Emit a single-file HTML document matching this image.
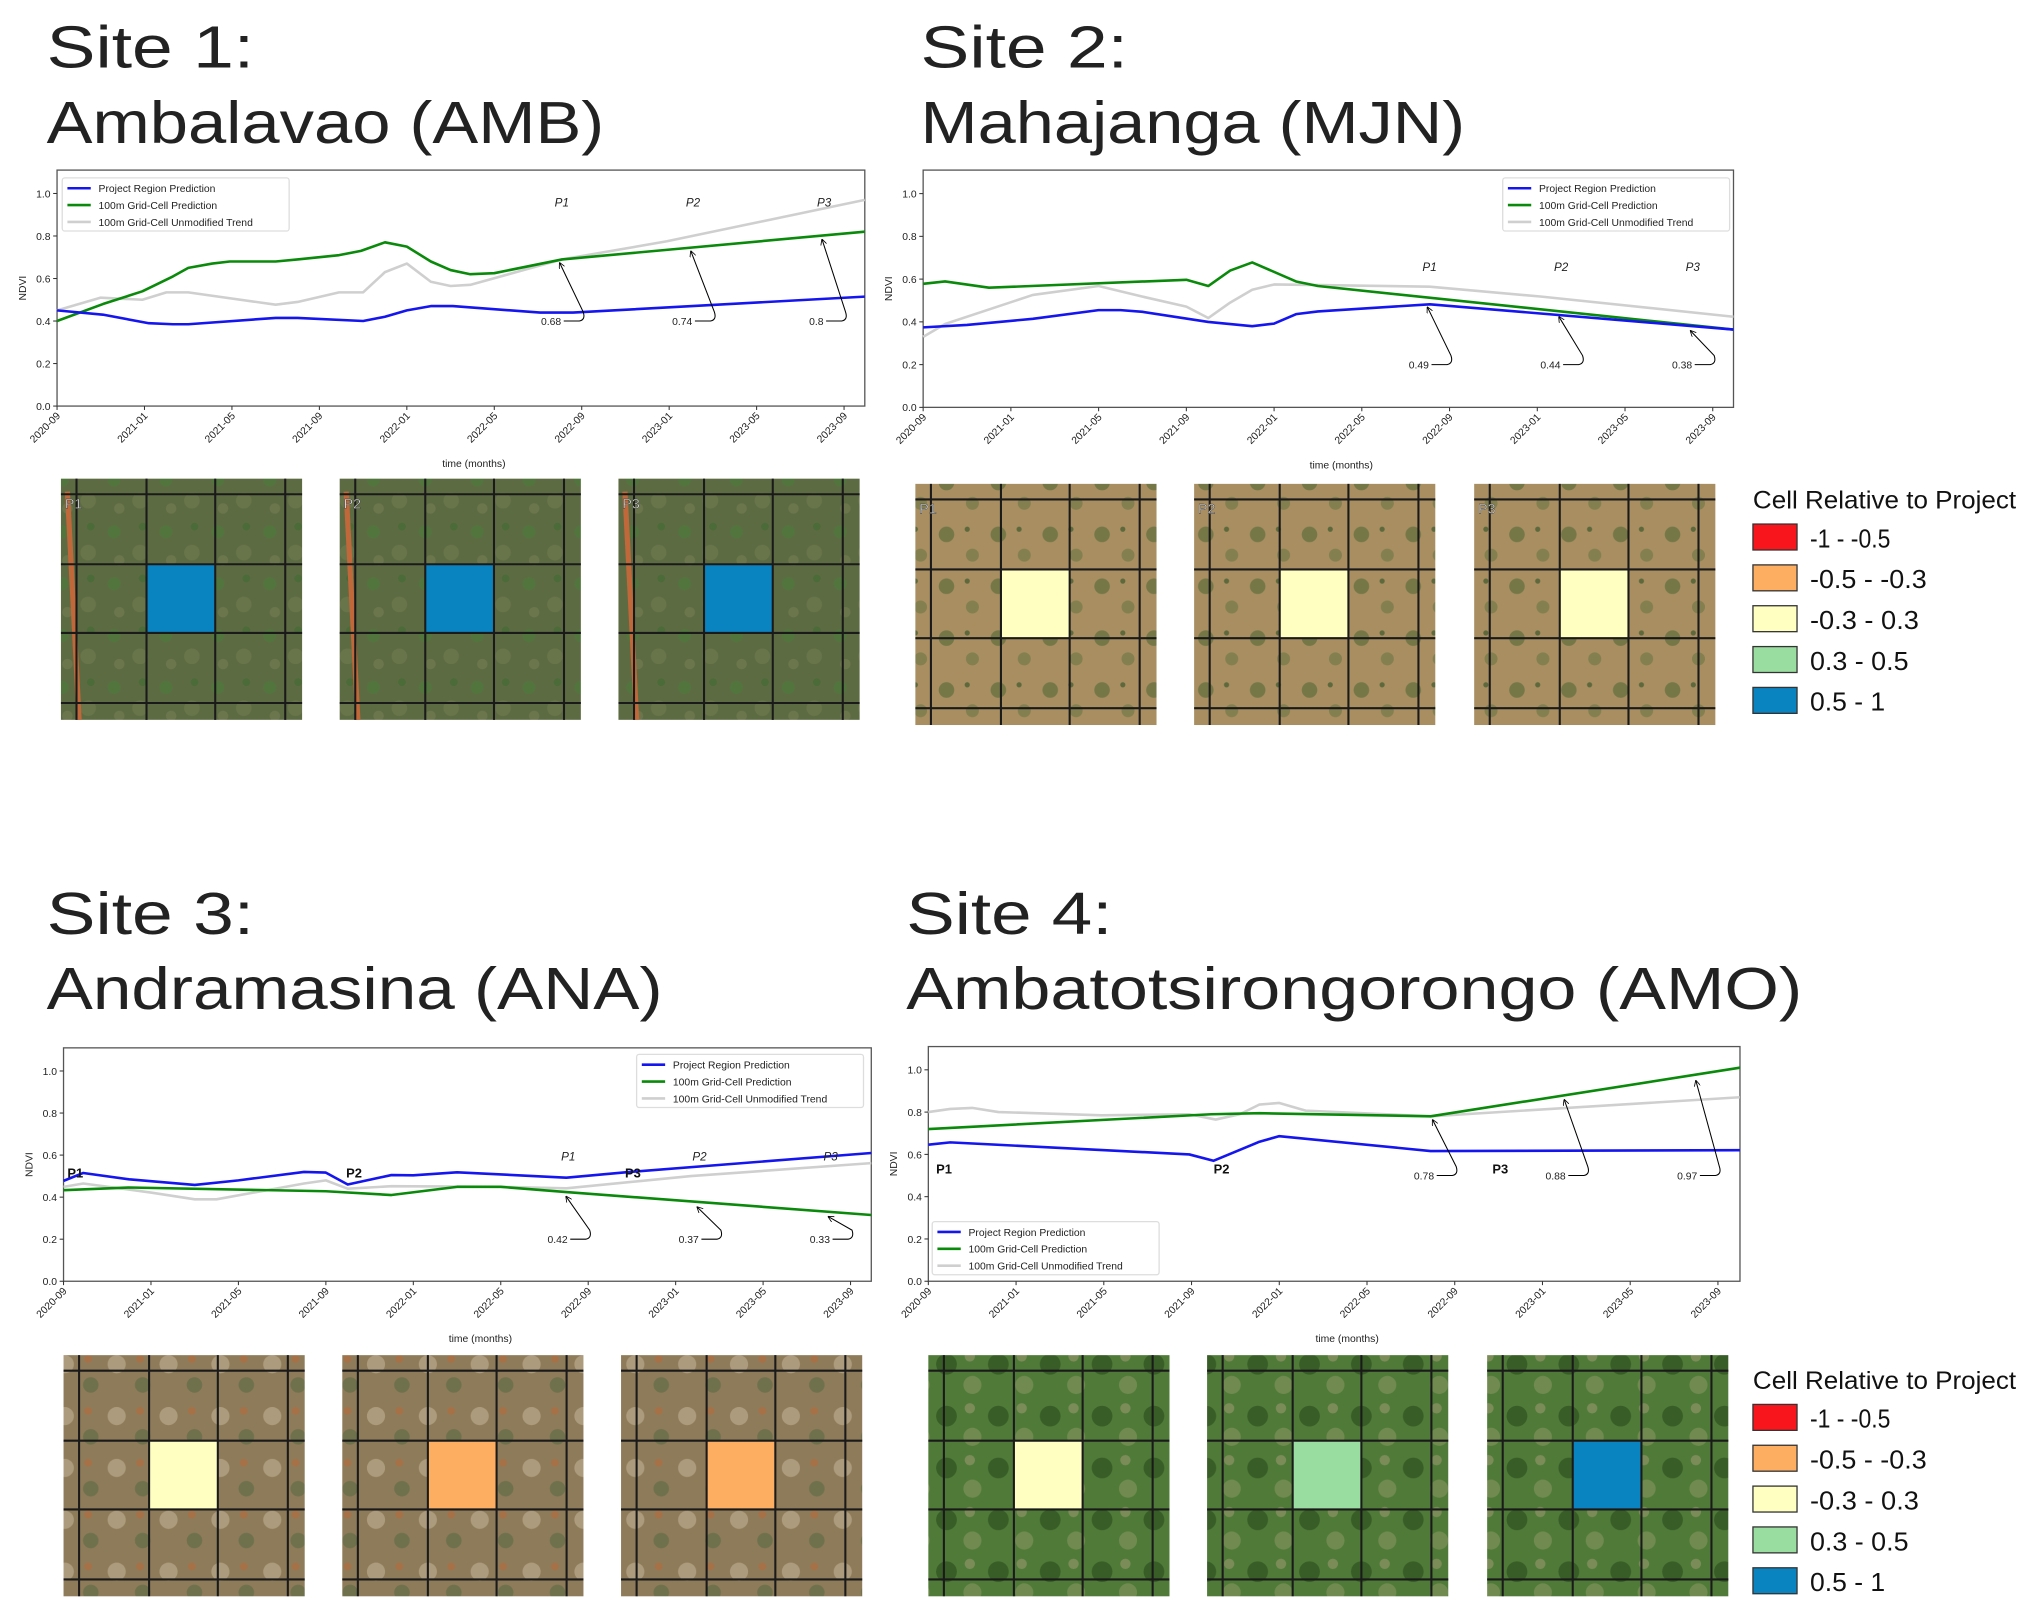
<!DOCTYPE html>
<html><head><meta charset="utf-8"><style>
html,body{margin:0;padding:0;background:#fff;width:2033px;height:1616px;overflow:hidden}
svg{display:block}
text{font-family:"Liberation Sans","DejaVu Sans",sans-serif}
</style></head><body>
<svg id="s" width="2033" height="1616" viewBox="0 0 1568 1246" xmlns="http://www.w3.org/2000/svg">
<defs>
<marker id="ah" markerWidth="6" markerHeight="6" refX="5" refY="3" orient="auto"><path d="M0,0 L6,3 L0,6" fill="none" stroke="#000" stroke-width="0.8"/></marker>
<pattern id="pg" width="40" height="40" patternUnits="userSpaceOnUse"><rect width="40" height="40" fill="#5d6b43"/><circle cx="8" cy="10" r="5" fill="#4c7a3a" opacity=".7"/><circle cx="28" cy="26" r="6" fill="#6f7a4f" opacity=".6"/><circle cx="30" cy="6" r="3" fill="#3f6a30" opacity=".6"/><circle cx="12" cy="32" r="4" fill="#7a8157" opacity=".5"/></pattern>
<pattern id="pt" width="40" height="40" patternUnits="userSpaceOnUse"><rect width="40" height="40" fill="#a88e60"/><circle cx="10" cy="12" r="6" fill="#5f6e3c" opacity=".7"/><circle cx="30" cy="28" r="5" fill="#6b7444" opacity=".6"/><circle cx="26" cy="8" r="2" fill="#3e5a2c" opacity=".7"/></pattern>
<pattern id="pa" width="40" height="40" patternUnits="userSpaceOnUse"><rect width="40" height="40" fill="#8e7b5a"/><circle cx="10" cy="12" r="7" fill="#b9a88a" opacity=".7"/><circle cx="30" cy="28" r="6" fill="#5a6a45" opacity=".6"/><circle cx="28" cy="8" r="3" fill="#b56a3a" opacity=".6"/></pattern>
<pattern id="pm" width="40" height="40" patternUnits="userSpaceOnUse"><rect width="40" height="40" fill="#4f7a38"/><circle cx="10" cy="12" r="8" fill="#2d5220" opacity=".7"/><circle cx="30" cy="28" r="7" fill="#86955f" opacity=".6"/><circle cx="28" cy="6" r="4" fill="#a89e78" opacity=".5"/></pattern>
</defs>
<g id="g"></g>
</svg>
<script>
const g=document.getElementById('g');let h='';
function T(x,y,s,sz,extra){h+=`<text x="${x}" y="${y}" font-size="${sz}" ${extra||''}>${s}</text>`;}
function TT(x,y,s,w){T(x,y,s,46,`fill="#222" textLength="${w}" lengthAdjust="spacingAndGlyphs"`);}
TT(36,52,'Site 1:',160);TT(36,110,'Ambalavao (AMB)',430);
TT(710,52,'Site 2:',160);TT(710,110,'Mahajanga (MJN)',420);
TT(36,720,'Site 3:',160);TT(36,778,'Andramasina (ANA)',475);
TT(699,720,'Site 4:',159);TT(699,778,'Ambatotsirongorongo (AMO)',691);
const labels=['2020-09','2021-01','2021-05','2021-09','2022-01','2022-05','2022-09','2023-01','2023-05','2023-09'];
function chart(c){
 const {x0,x1,y0,y1,m0,m36}=c;const yb=y1,py=(y1-y0)/1.11;
 const X=m=>m0+(m36-m0)*m/36,Y=v=>yb-v*py;
 h+=`<rect x="${x0}" y="${y0}" width="${x1-x0}" height="${y1-y0}" fill="#fff" stroke="#555" stroke-width="1"/>`;
 for(let i=0;i<=5;i++){const v=i*0.2,y=Y(v);h+=`<line x1="${x0-3}" x2="${x0}" y1="${y}" y2="${y}" stroke="#333" stroke-width=".8"/>`;T(x0-5,y+3,v.toFixed(1),8,'text-anchor="end" fill="#222"');}
 labels.forEach((l,i)=>{const x=X(i*4);h+=`<line x1="${x}" x2="${x}" y1="${y1}" y2="${y1+3}" stroke="#333" stroke-width=".8"/>`;T(x+3,y1+8,l,8,`text-anchor="end" fill="#222" transform="rotate(-45 ${x+3} ${y1+8})"`);});
 T((x0+x1)/2+10,y1+47,'time (months)',8,'text-anchor="middle" fill="#222"');
 T(x0-24,(y0+y1)/2,'NDVI',8,`text-anchor="middle" fill="#222" transform="rotate(-90 ${x0-24} ${(y0+y1)/2})"`);
 const cl=d=>d.map(p=>[Math.min(Math.max(X(p[0]),x0),x1),Y(p[1])]);
 [['#cfcfcf',c.grey],['#0a8a0a',c.green],['#1515f0',c.blue]].forEach(([col,d])=>{h+=`<polyline fill="none" stroke="${col}" stroke-width="2" stroke-linejoin="round" points="${cl(d).map(p=>p[0].toFixed(1)+','+p[1].toFixed(1)).join(' ')}"/>`;});
 const L=c.leg;h+=`<rect x="${L[0]}" y="${L[1]}" width="175" height="41" fill="#fff" stroke="#ddd" rx="2"/>`;
 [['#1515f0','Project Region Prediction'],['#0a8a0a','100m Grid-Cell Prediction'],['#cfcfcf','100m Grid-Cell Unmodified Trend']].forEach(([col,t],i)=>{const yy=L[1]+8+i*13;h+=`<line x1="${L[0]+4}" x2="${L[0]+22}" y1="${yy}" y2="${yy}" stroke="${col}" stroke-width="2"/>`;T(L[0]+28,yy+3,t,8,'fill="#222"');});
 const ms=[23,29,35];
 if(c.py)ms.forEach((m,i)=>T(X(m)-4,c.py,'P'+(i+1),9,'font-style="italic" fill="#222"'));
 (c.B||[]).forEach(p=>T(p[0],p[1],p[2],10,'font-weight="bold" fill="#111"'));
 c.A.forEach((a,i)=>{const [t,v]=a;const px=X(ms[i]),pyy=Y(v),lx=px+1,ly=Y(c.ly);T(lx,ly+3,t,8,'text-anchor="end" fill="#222"');
  h+=`<path d="M${lx+2},${ly} L${lx+14},${ly} Q${lx+19},${ly-1} ${lx+17},${ly-7} L${px},${pyy+3}" fill="none" stroke="#000" stroke-width=".8" marker-end="url(#ah)"/>`;});
}
chart({x0:44,x1:667,y0:131,y1:313,m0:44,m36:651,leg:[48,137],py:159,ly:.40,
 blue:[[0,.45],[2.1,.43],[4.2,.39],[5.3,.385],[6,.385],[10,.415],[11,.415],[14,.40],[15,.42],[16,.45],[17.1,.47],[18.1,.47],[22.1,.44],[23.6,.44],[37,.515]],
 green:[[0,.40],[2.1,.48],[3.9,.54],[5.3,.61],[6,.65],[7.1,.67],[7.9,.68],[10,.68],[11,.69],[12.9,.71],[13.9,.73],[15,.77],[16,.75],[17.1,.68],[18,.64],[18.9,.62],[20,.625],[23.1,.69],[37,.82]],
 grey:[[0,.45],[2,.51],[3.9,.50],[5,.535],[6,.535],[10,.477],[11,.49],[12.9,.535],[14,.535],[15,.63],[16,.67],[17.1,.585],[18,.565],[18.9,.57],[23.1,.69],[27.9,.775],[37,.97]],
 A:[['0.68',.69],['0.74',.745],['0.8',.80]]});
chart({x0:712,x1:1337,y0:131,y1:314,m0:712,m36:1321,leg:[1159,137],py:209,ly:.20,
 green:[[0,.578],[1,.589],[3,.56],[12,.597],[13,.568],[14,.64],[15,.678],[17,.589],[18,.568],[37,.364]],
 blue:[[0,.374],[2,.386],[5,.414],[8,.455],[9,.455],[10,.447],[13,.40],[15,.38],[16,.392],[17,.436],[18,.449],[23.1,.482],[37,.364]],
 grey:[[0,.33],[1,.39],[5,.526],[8,.568],[10,.518],[12,.471],[13,.418],[14,.49],[15,.55],[16,.575],[23.1,.565],[28.2,.518],[37,.424]],
 A:[['0.49',.485],['0.44',.44],['0.38',.375]]});
chart({x0:49,x1:672,y0:808,y1:988,m0:49,m36:656,leg:[491,813],py:895,ly:.20,
 blue:[[0,.477],[.9,.515],[3,.485],[6,.458],[8,.48],[11,.52],[12,.517],[13,.46],[15,.505],[16,.504],[18,.518],[23,.493],[25.9,.52],[37,.61]],
 green:[[0,.433],[3,.446],[12,.428],[15,.41],[18,.449],[20,.449],[23,.424],[37,.315]],
 grey:[[0,.449],[.9,.465],[4,.422],[6,.39],[7,.39],[11,.465],[12,.48],[13,.44],[15,.452],[20,.449],[23,.442],[28.7,.50],[37,.562]],
 B:[[52,908,'P1'],[267,908,'P2'],[482,908,'P3']],
 A:[['0.42',.42],['0.37',.37],['0.33',.325]]});
chart({x0:716,x1:1342,y0:807,y1:988,m0:716,m36:1325,leg:[719,942],ly:.50,
 blue:[[0,.646],[1,.657],[11.9,.60],[13,.57],[15.1,.66],[16,.686],[22.9,.616],[37,.62]],
 green:[[0,.72],[12.9,.79],[15.1,.795],[22.9,.78],[37,1.01]],
 grey:[[0,.80],[1,.815],[2,.82],[3.2,.80],[7.9,.785],[11.9,.79],[13.1,.765],[14.2,.79],[15.1,.836],[16,.843],[17.2,.807],[22.9,.78],[37,.87]],
 B:[[722,905,'P1'],[936,905,'P2'],[1151,905,'P3']],
 A:[['0.78',.78],['0.88',.875],['0.97',.965]]});
function img(x,y,pat,col,lbl,road){
 h+=`<rect x="${x}" y="${y}" width="186" height="186" fill="url(#${pat})"/>`;
 if(road)h+=`<path d="M${x+5},${y+10} L${x+14},${y+186}" stroke="#c0683a" stroke-width="4"/>`;
 h+=`<rect x="${x+66}" y="${y+66}" width="53" height="53" fill="${col}"/>`;
 [12,66,119,173].forEach(d=>{h+=`<line x1="${x+d}" x2="${x+d}" y1="${y}" y2="${y+186}" stroke="#1a1a1a" stroke-width="1.6"/><line y1="${y+d}" y2="${y+d}" x1="${x}" x2="${x+186}" stroke="#1a1a1a" stroke-width="1.6"/>`;});
 if(lbl)T(x+3,y+23,lbl,11,'fill="#ddd" stroke="#333" stroke-width=".3"');
}
const B='#0a83c1',Yl='#feffc0',O='#fdae61',G='#99dea0';
[47,262,477].forEach((x,i)=>img(x,369,'pg',B,'P'+(i+1),1));
[706,921,1137].forEach((x,i)=>img(x,373,'pt',Yl,'P'+(i+1)));
[49,264,479].forEach((x,i)=>img(x,1045,'pa',[Yl,O,O][i]));
[716,931,1147].forEach((x,i)=>img(x,1045,'pm',[Yl,G,B][i]));
function leg(y){T(1352,y,'Cell Relative to Project',19,'fill="#111" textLength="203" lengthAdjust="spacingAndGlyphs"');
 [['#f8161c','-1 - -0.5',62],[O,'-0.5 - -0.3',90],[Yl,'-0.3 - 0.3',84],[G,'0.3 - 0.5',76],[B,'0.5 - 1',58]].forEach(([c,t,w],i)=>{const yy=y+12+i*31.5;h+=`<rect x="1352" y="${yy}" width="34" height="20" fill="${c}" stroke="#333" stroke-width="1"/>`;T(1396,yy+18,t,20,`fill="#111" textLength="${w}" lengthAdjust="spacingAndGlyphs"`);});}
leg(392);leg(1071);
g.innerHTML=h;
</script>
</body></html>
